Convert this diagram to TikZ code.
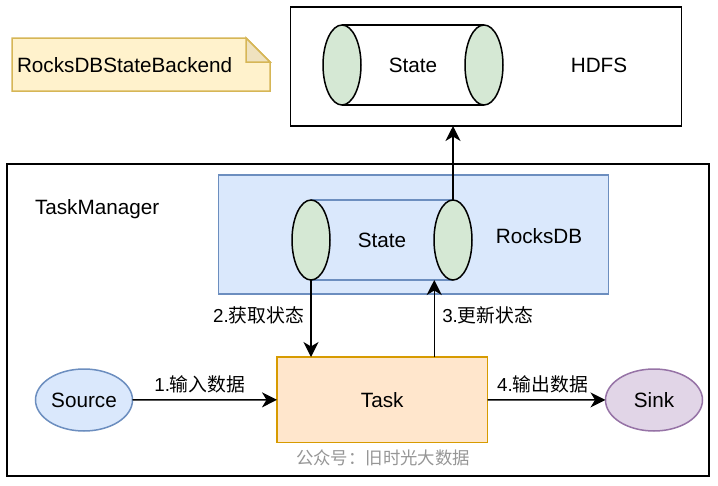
\documentclass[tikz,border=0pt]{standalone}
\usepackage{fontspec}
\setmainfont{Liberation Sans}
\newfontfamily\cjk{Noto Sans CJK SC}
\usepackage{xcolor}
\definecolor{blueFill}{HTML}{DAE8FC}
\definecolor{blueLine}{HTML}{6C8EBF}
\definecolor{greenFill}{HTML}{D5E8D4}
\definecolor{orangeFill}{HTML}{FFE6CC}
\definecolor{orangeLine}{HTML}{D79B00}
\definecolor{purpleFill}{HTML}{E1D5E7}
\definecolor{purpleLine}{HTML}{9673A6}
\definecolor{noteFill}{HTML}{FFF2CC}
\definecolor{noteFold}{HTML}{EFE2BF}
\definecolor{noteLine}{HTML}{D6B656}
\definecolor{wmGray}{RGB}{150,150,150}
\usepackage{tikz}
\usetikzlibrary{shapes.geometric}
\usetikzlibrary{positioning}
\usetikzlibrary{arrows.meta}

\begin{document}
\begin{tikzpicture}[x=1pt,y=-1pt,line width=1.5pt,
every node/.style={font=\fontsize{20.7}{24}\selectfont,inner sep=0pt,outer sep=0pt},
box/.style={draw,rectangle,anchor=north west},
disk/.style={draw,ellipse,fill=greenFill,minimum width=38pt,minimum height=80pt},
arr/.style={-{Stealth[length=15pt,width=15pt,inset=4.5pt]}},
lbl/.style={font=\fontsize{18.8}{22}\selectfont}]
\useasboundingbox (0,0) rectangle (718,485);
\filldraw[fill=noteFill,draw=noteLine] (12,38) -- (246,38) -- (270,62) -- (270,91) -- (12,91) -- cycle;
\filldraw[fill=noteFold,draw=noteLine] (246,38) -- (246,62) -- (270,62) -- cycle;
\node[anchor=west] (backend) at (17,65) {RocksDBStateBackend};
\node[box,minimum width=391pt,minimum height=119pt] (hdfs) at (290.5,7) {};
\node (hdfslbl) at (599,65) {HDFS};
\node[minimum width=142pt,minimum height=80pt] (body1) at (413,65) {State};
\draw (body1.north west) -- (body1.north east) (body1.south west) -- (body1.south east);
\node[disk] (l1) at (body1.west) {};
\node[disk] (r1) at (body1.east) {};
\node[box,minimum width=702pt,minimum height=312pt] (tm) at (7,164) {};
\node[anchor=west] (tmlbl) at (35,209) {TaskManager};
\node[box,fill=blueFill,draw=blueLine,minimum width=390pt,minimum height=119pt] (rocks) at (218.5,175) {};
\node (rockslbl) at (539,236) {RocksDB};
\node[minimum width=142pt,minimum height=80pt] (body2) at (382,240) {State};
\draw[blueLine] (body2.north west) -- (body2.north east) (body2.south west) -- (body2.south east);
\node[disk] (l2) at (body2.west) {};
\node[disk] (r2) at (body2.east) {};
\node[box,fill=orangeFill,draw=orangeLine,minimum width=210.5pt,minimum height=85.5pt] (task) at (277,357) {};
\node (tasklbl) at (task.center) {Task};
\node[draw=blueLine,fill=blueFill,ellipse,minimum width=97pt,minimum height=62pt] (src) at (84,400) {Source};
\node[draw=purpleLine,fill=purpleFill,ellipse,minimum width=97pt,minimum height=62pt] (snk) at (654,400) {Sink};
\draw[arr] (src) -- node[lbl,above=7pt,xshift=-5pt] {1.{\cjk 输入数据}} (task);
\draw[arr] (task) -- node[lbl,above=7pt,xshift=-4pt] {4.{\cjk 输出数据}} (snk);
\draw[arr] (l2.south) -- node[lbl,left=7pt,yshift=3pt] {2.{\cjk 获取状态}} (l2.south |- task.north);
\coordinate (upd) at ([xshift=52pt]task.north);
\draw[arr] (upd) -- node[lbl,right=8pt,yshift=3pt] {3.{\cjk 更新状态}} (upd |- body2.south);
\draw[arr] (r2.north) -- (r2.north |- hdfs.south);
\node[text=wmGray,font=\fontsize{17.4}{20}\selectfont] (wm) at (383,458) {\cjk 公众号：旧时光大数据};
\end{tikzpicture}
\end{document}
